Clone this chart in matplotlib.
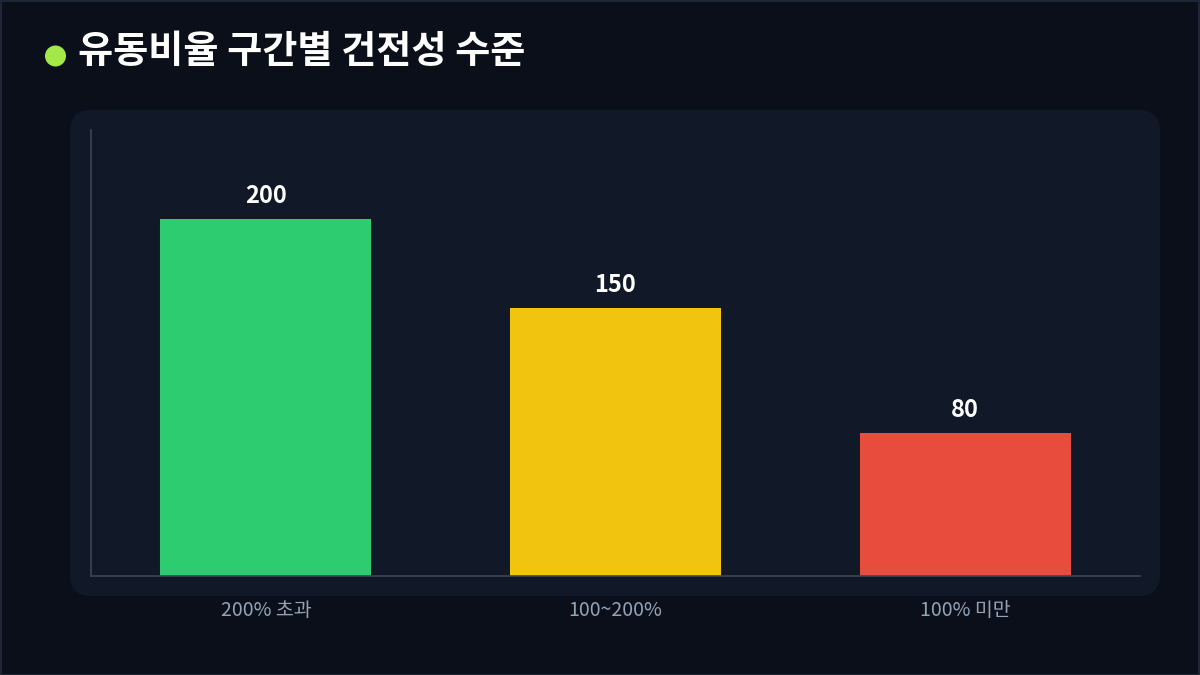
import matplotlib
matplotlib.use("Agg")
import matplotlib.pyplot as plt
from matplotlib.patches import FancyBboxPatch, Rectangle, Circle

plt.rcParams['font.family'] = ['Noto Sans CJK KR', 'DejaVu Sans']

title = "유동비율 구간별 건전성 수준"
categories = ["200% 초과", "100~200%", "100% 미만"]
values = [200, 150, 80]
bar_colors = ["#2ecc71", "#f1c40f", "#e74c3c"]

W, H = 1200, 675
fig = plt.figure(figsize=(12, 6.75), dpi=100)
fig.patch.set_facecolor("#0b0f19")

# outer border
fig.patches.append(Rectangle((0.5 / W, 0.5 / H), 1 - 1.5 / W, 1 - 1.5 / H, transform=fig.transFigure,
                             facecolor="none", edgecolor="#1e2638", linewidth=1.5, zorder=-2))

# panel
px0, px1, py0, py1 = 70, 1160, 110, 596
fig.patches.append(FancyBboxPatch((px0 / W, 1 - py1 / H), (px1 - px0) / W, (py1 - py0) / H,
                                  boxstyle="round,pad=0,rounding_size=0.018",
                                  transform=fig.transFigure, facecolor="#111827",
                                  edgecolor="none", zorder=-1, mutation_aspect=W / H))

# title dot and text
fig.patches.append(Circle((0.555, (H - 56) / 100), radius=0.105, transform=fig.dpi_scale_trans,
                          facecolor="#a3e847", edgecolor="none", zorder=1))
fig.text(78 / W, 1 - 52 / H, title, color="white", fontsize=27.5, fontweight="bold",
         ha="left", va="center")

ax = fig.add_axes([91 / W, 1 - 576 / H, 1049 / W, 446 / H])
ax.set_facecolor("none")
x = list(range(len(categories)))
bars = ax.bar(x, values, width=0.603, color=bar_colors, zorder=2)
ax.set_xlim(-0.5, 2.5)
ax.set_ylim(0, 250)
for b, v in zip(bars, values):
    ax.annotate(f"{v}", (b.get_x() + b.get_width() / 2, v), xytext=(0, 8),
                textcoords="offset points", ha="center", va="bottom",
                color="white", fontsize=17, fontweight="bold")
ax.set_xticks(x)
ax.set_xticklabels(categories)
ax.tick_params(axis="x", length=0, pad=17, colors="#94a3b8", labelsize=14)
ax.set_yticks([])
for s in ["top", "right"]:
    ax.spines[s].set_visible(False)
for s in ["left", "bottom"]:
    ax.spines[s].set_color("#3a4556")
    ax.spines[s].set_linewidth(1.2)

fig.savefig("out.png", dpi=100, facecolor=fig.get_facecolor())
